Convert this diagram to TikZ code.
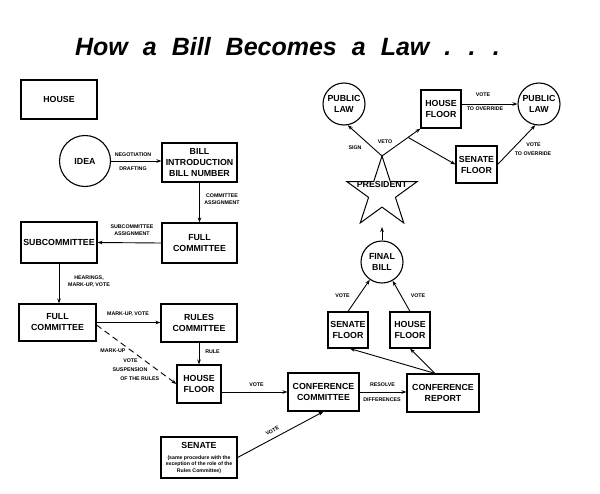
\documentclass[tikz,border=0pt]{standalone}
\usepackage{fontspec}
\setmainfont{Liberation Sans}
\usetikzlibrary{arrows.meta,calc}
\begin{document}
\begin{tikzpicture}[x=1pt,y=-1pt,
  box/.style={draw, line width=1.2pt, rectangle, align=center, inner sep=0pt,
    font=\fontsize{8.8}{11}\selectfont\bfseries},
  circ/.style={draw, line width=1.1pt, circle, align=center, inner sep=0pt,
    minimum size=42pt, font=\fontsize{8.8}{11}\selectfont\bfseries},
  wh/.style 2 args={minimum width=#1pt, minimum height=#2pt},
  lbl/.style={font=\fontsize{5.3}{7}\selectfont\bfseries, inner sep=0pt, align=center},
  boxtext/.style={font=\fontsize{8.8}{11}\selectfont\bfseries, inner sep=0pt, align=center},
  smalltext/.style={font=\fontsize{5.2}{6.7}\selectfont\bfseries, inner sep=0pt, align=center},
  conn/.style={line width=0.9pt, -{Stealth[length=5pt,width=3.6pt]}},
  titlefont/.style={font=\fontsize{25}{25}\selectfont\bfseries\itshape}
]
\fill[white] (0,0) rectangle (600,493);
\useasboundingbox (0,0) rectangle (600,493);

% title
\node[titlefont, inner sep=0pt] (title) at (287.5,47) {\spaceskip=15pt How a Bill Becomes a Law . . .};

% left column
\node[box, wh={76}{39}] (house) at (59,99.5) {HOUSE};
\node[circ, minimum size=51pt] (idea) at (85,161) {IDEA};
\node[box, wh={75}{39}] (bill) at (199.5,162.5) {BILL\\INTRODUCTION\\BILL NUMBER};
\node[box, wh={75}{40}] (fc1) at (199.5,243) {FULL\\COMMITTEE};
\node[box, wh={76}{41}] (sub) at (59,242.5) {SUBCOMMITTEE};
\node[box, wh={77}{37}] (fc2) at (57.5,322.5) {FULL\\COMMITTEE};
\node[box, wh={76}{38}] (rules) at (199,323) {RULES\\COMMITTEE};
\node[box, wh={44}{38}] (hf1) at (199,384) {HOUSE\\FLOOR};
\node[box, wh={71}{38}] (cc) at (323.5,392) {CONFERENCE\\COMMITTEE};
\node[box, wh={72}{38}] (cr) at (443,393) {CONFERENCE\\REPORT};
\node[box, wh={76}{41}] (senate) at (199,457.5) {};
\node[boxtext] (sentitle) at (199,445.5) {SENATE};
\node[smalltext] (sennote) at (199,464.5) {(same procedure with the\\exception of the role of the\\Rules Committee)};

% right part
\node[box, wh={40}{36}] (sf2) at (348,330) {SENATE\\FLOOR};
\node[box, wh={40}{36}] (hf2) at (410,330) {HOUSE\\FLOOR};
\node[circ] (final) at (382,262) {FINAL\\BILL};
\node[circ] (pl1) at (344,104) {PUBLIC\\LAW};
\node[box, wh={40}{38}] (hf3) at (441,109) {HOUSE\\FLOOR};
\node[circ] (pl2) at (539,104) {PUBLIC\\LAW};
\node[box, wh={41}{37}] (sf3) at (476.5,164.5) {SENATE\\FLOOR};

% star
\draw[line width=1pt, shift={(382,193)}]
  (-90:37) -- (-54:14.13) -- (-18:37) -- (18:14.13) -- (54:37) -- (90:14.13)
  -- (126:37) -- (162:14.13) -- (198:37) -- (234:14.13) -- cycle;
\node[boxtext] (pres) at (382,184.5) {PRESIDENT};
\coordinate (startop) at (382,156);
\coordinate (stbot) at (382,227);

% connectors
\draw[conn] (idea.east) -- (bill.west |- idea.east);
\draw[conn] (bill.south) -- (fc1.north);
\draw[conn] (fc1.west) -- (sub.east);
\draw[conn] (sub.south) -- (sub.south |- fc2.north);
\draw[conn] (fc2.east) -- (rules.west |- fc2.east);
\draw[conn, dash pattern=on 6pt off 4pt] ([yshift=-2.5pt]fc2.east) -- (hf1.west);
\draw[conn] (rules.south) -- (hf1.north);
\draw[conn] (hf1.east |- cc.west) -- (cc.west);
\draw[conn] (senate.east) -- (cc.south);
\draw[conn] (cc.east) -- (cr.west |- cc.east);
\coordinate (crtop) at ($(cr.north)+(-8,0)$);
\draw[conn] (crtop) -- ([xshift=2pt]sf2.south);
\draw[conn] (crtop) -- (hf2.south);
\draw[conn] (sf2.north) -- (final);
\draw[conn] (hf2.north) -- (final);
\draw[conn] (final.north) -- (stbot);
\draw[conn] (startop) -- (pl1.-80);
\draw[conn] (startop) -- (hf3.south west);
\coordinate (vetomid) at ($(startop)!0.68!(hf3.south west)$);
\draw[conn] (vetomid) -- (sf3.west);
\draw[conn] (hf3.east |- pl2.west) -- (pl2.west);
\draw[conn] (sf3.east) -- (pl2.-100);

% labels
\node[lbl] (l1) at (133,155) {NEGOTIATION};
\node[lbl] (l2) at (133,168.5) {DRAFTING};
\node[lbl] (l3) at (222,199.5) {COMMITTEE\\ASSIGNMENT};
\node[lbl] (l4) at (132,230.5) {SUBCOMMITTEE\\ASSIGNMENT};
\node[lbl] (l5) at (89,282) {HEARINGS,\\MARK-UP, VOTE};
\node[lbl] (l6) at (128,314) {MARK-UP, VOTE};
\node[lbl] (l7) at (113,350.7) {MARK-UP};
\node[lbl] (l8) at (130.5,360.7) {VOTE};
\node[lbl] (l9) at (130,369.3) {SUSPENSION};
\node[lbl] (l10) at (139.7,378.3) {OF THE RULES};
\node[lbl] (l11) at (212.5,351.7) {RULE};
\node[lbl] (l12) at (256.5,385) {VOTE};
\node[lbl, rotate=28] (l13) at (272.3,430.7) {VOTE};
\node[lbl] (l14) at (382.5,385) {RESOLVE};
\node[lbl] (l15) at (382,400) {DIFFERENCES};
\node[lbl] (l16) at (342.5,296) {VOTE};
\node[lbl] (l17) at (418,296) {VOTE};
\node[lbl] (l18) at (355,147.5) {SIGN};
\node[lbl] (l19) at (385,141.7) {VETO};
\node[lbl] (l20) at (483,95) {VOTE};
\node[lbl] (l21) at (485,109) {TO OVERRIDE};
\node[lbl] (l22) at (533.5,145) {VOTE};
\node[lbl] (l23) at (533,153.3) {TO OVERRIDE};
\end{tikzpicture}
\end{document}
